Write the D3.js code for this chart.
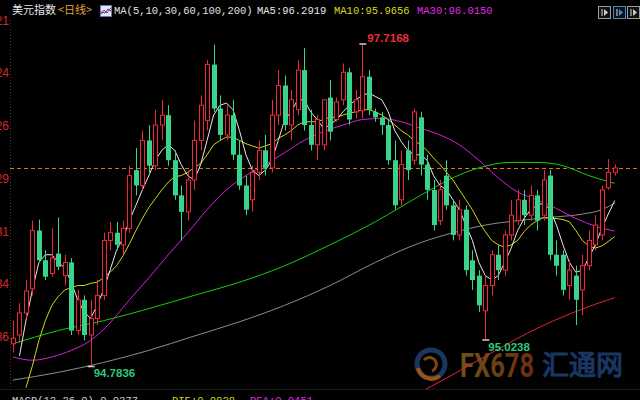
<!DOCTYPE html>
<html><head><meta charset="utf-8">
<script src="https://cdn.jsdelivr.net/npm/d3@7"></script>
<style>html,body{margin:0;padding:0;background:#000;overflow:hidden}</style>
</head><body><svg id="c" width="640" height="400"></svg>
<script>
// ---- data ----
const opens  = [94.99,95.07,95.27,95.49,96.02,95.75,95.63,95.81,95.61,95.73,95.11,95.39,95.07,95.22,95.43,95.93,96.00,95.89,96.04,96.57,
                96.43,96.84,96.61,96.98,97.07,96.66,96.34,96.19,96.48,96.84,97.02,97.53,97.13,96.89,97.07,96.71,96.43,96.30,96.55,96.75,
                96.59,97.07,97.34,96.98,97.12,97.48,96.98,96.80,96.80,97.23,97.03,97.21,97.46,97.10,97.11,97.42,97.10,97.05,96.98,96.66,
                96.30,96.75,96.66,97.05,96.62,96.39,96.11,96.52,96.25,95.98,96.21,95.75,95.61,95.29,95.52,95.80,95.66,95.98,96.11,96.30,
                96.16,96.34,96.16,96.52,95.80,95.80,95.52,95.61,95.48,95.70,95.89,95.98,96.41,96.55];
const highs  = [95.20,95.36,95.57,96.11,96.12,95.84,96.04,96.14,95.80,95.77,95.48,95.43,95.39,95.57,96.00,96.10,96.10,96.11,96.61,96.77,
                96.93,96.98,97.12,97.21,97.16,96.75,96.43,96.57,97.02,97.25,97.57,97.71,97.25,97.16,97.21,96.84,96.52,96.61,96.84,96.89,
                97.21,97.48,97.43,97.30,97.57,97.68,97.12,97.07,97.03,97.39,97.23,97.54,97.50,97.30,97.7168,97.48,97.13,97.10,97.03,96.84,
                96.75,96.84,97.13,97.10,96.71,96.48,96.48,96.66,96.30,96.30,96.25,95.84,95.66,95.61,95.84,95.89,96.02,96.30,96.39,96.39,
                96.43,96.39,96.57,96.57,95.93,95.84,95.75,95.70,95.80,96.02,96.16,96.43,96.67,96.62];
const lows   = [94.91,95.00,95.22,95.43,95.73,95.57,95.60,95.66,95.52,95.07,95.07,95.02,94.7836,95.16,95.39,95.84,95.84,95.80,96.00,96.34,
                96.39,96.52,96.57,96.84,96.61,96.30,95.93,96.11,96.39,96.75,96.93,97.10,96.84,96.84,96.66,96.39,96.16,96.19,96.48,96.52,
                96.55,96.98,96.93,96.84,97.07,96.93,96.75,96.66,96.75,96.84,97.01,97.16,96.98,97.04,97.04,97.07,97.01,96.89,96.62,96.21,
                96.25,96.48,96.62,96.52,96.30,96.02,96.07,96.21,95.93,95.93,95.61,95.48,95.28,95.0238,95.43,95.57,95.61,95.93,96.07,96.07,
                96.11,96.02,96.11,95.75,95.61,95.43,95.39,95.16,95.25,95.66,95.84,95.93,96.39,96.52];
const closes = [95.04,95.27,95.47,96.02,95.75,95.60,95.77,95.69,95.73,95.11,95.39,95.07,95.22,95.43,95.93,96.00,95.89,96.04,96.52,96.43,
                96.84,96.61,96.98,97.07,96.66,96.34,96.19,96.48,96.84,97.16,97.53,97.13,96.89,97.07,96.71,96.43,96.21,96.55,96.75,96.59,
                97.07,97.34,96.98,97.21,97.48,96.98,96.80,97.03,97.21,96.92,97.19,97.46,97.03,97.21,97.42,97.12,97.05,96.98,96.66,96.25,
                96.62,96.57,97.10,96.62,96.39,96.07,96.39,96.25,95.98,96.21,95.66,95.57,95.34,95.52,95.80,95.66,95.98,96.16,96.30,96.16,
                96.34,96.11,96.48,95.80,95.70,95.48,95.66,95.39,95.70,95.93,96.07,96.39,96.55,96.59];

const ma5Start = 1;
const ma5 = [94.88,95.20,95.48,95.73,95.80,95.80,95.73,95.68,95.55,95.39,95.28,95.22,95.34,95.48,95.66,95.84,95.95,96.11,96.25,96.39,
             96.52,96.66,96.75,96.80,96.75,96.62,96.52,96.48,96.62,96.84,97.07,97.16,97.18,97.12,96.93,96.71,96.57,96.52,96.57,96.66,
             96.84,97.03,97.10,97.21,97.21,97.10,97.03,96.95,96.98,97.03,97.10,97.16,97.21,97.25,97.27,97.24,97.21,97.10,96.93,96.83,
             96.75,96.71,96.71,96.66,96.52,96.43,96.39,96.30,96.21,96.07,95.93,95.73,95.61,95.57,95.61,95.73,95.86,96.02,96.13,96.21,
             96.25,96.27,96.21,96.07,95.89,95.73,95.64,95.66,95.77,95.89,96.04,96.17,96.2919];
const ma10Start = 2;
const ma10 = [94.59,94.79,95.02,95.20,95.34,95.42,95.48,95.50,95.52,95.52,95.54,95.55,95.59,95.64,95.70,95.79,95.90,96.02,96.13,96.23,
              96.31,96.39,96.46,96.51,96.52,96.55,96.59,96.63,96.71,96.80,96.84,96.87,96.87,96.84,96.81,96.79,96.77,96.79,96.81,96.86,
              96.89,96.93,96.98,97.01,97.01,97.01,97.03,97.05,97.05,97.07,97.09,97.10,97.12,97.12,97.10,97.07,97.03,96.98,96.93,96.89,
              96.84,96.80,96.75,96.68,96.62,96.55,96.48,96.39,96.30,96.21,96.10,96.01,95.93,95.89,95.87,95.89,95.93,96.01,96.07,96.11,
              96.14,96.13,96.13,96.12,96.10,96.02,95.93,95.88,95.86,95.88,95.92,95.9656];
const ma30 = [[0,94.87],[3,94.84],[6,94.87],[9,94.93],[12,95.02],[15,95.18],[18,95.39],[21,95.59],[24,95.80],[27,96.00],[30,96.21],
              [33,96.39],[36,96.52],[39,96.62],[42,96.73],[45,96.84],[48,96.92],[51,96.98],[54,97.03],[57,97.04],[60,97.01],[63,96.95],
              [66,96.89],[69,96.80],[72,96.66],[75,96.50],[78,96.37],[81,96.30],[84,96.22],[87,96.13],[90,96.06],[93,96.015]];
const ma60 = [[0,94.99],[7,95.11],[14,95.20],[21,95.31],[28,95.43],[35,95.55],[42,95.70],[49,95.89],[56,96.10],[63,96.34],
              [68,96.50],[72,96.59],[77,96.64],[81,96.64],[85,96.61],[89,96.52],[93,96.45]];
const ma100 = [[0,94.66],[7,94.73],[14,94.82],[21,94.93],[28,95.06],[35,95.19],[42,95.34],[49,95.52],[56,95.73],[63,95.91],
               [68,96.00],[73,96.07],[78,96.11],[83,96.14],[88,96.17],[91,96.21],[93,96.27]];
const ma200 = [[63,94.55],[68,94.71],[73,94.875],[78,95.04],[81,95.13],[86,95.26],[90,95.35],[93,95.41]];

const tickLabels = ["97.9321","97.4524","96.9726","96.4929","96.0131","95.5334","95.0536"];
const highMark = {idx:54, value:"97.7168"};
const lowMarks = [{idx:12, value:"94.7836"},{idx:73, value:"95.0238"}];
const legendItems = [
  {text:"MA5:96.2919", color:"#e6e6e6"},
  {text:"MA10:95.9656", color:"#d8d81c"},
  {text:"MA30:96.0150", color:"#e02ce0"}
];

// ---- drawing ----
const W=640,H=400;
const svg=d3.select("#c");
svg.append("rect").attr("width",W).attr("height",H).attr("fill","#000");

const plotTop=20, plotBottom=389.5, axisX=10;
const y=d3.scaleLinear().domain([94.5739,97.9321]).range([plotBottom,20.4]);
const x=d3.scaleLinear().domain([0,93]).range([13,614.7]);
const UP="#f0283c", DOWN="#38d48c";

const defs=svg.append("defs");
defs.append("clipPath").attr("id","plot")
  .append("rect").attr("x",axisX).attr("y",plotTop).attr("width",W-axisX).attr("height",plotBottom-plotTop);

// left axis line (dotted) and labels
svg.append("line").attr("x1",axisX+0.5).attr("x2",axisX+0.5).attr("y1",plotTop).attr("y2",plotBottom)
  .attr("stroke","#3a3a3a").attr("stroke-dasharray","1,2");
svg.append("g").selectAll("text").data(tickLabels).join("text")
  .attr("x",9).attr("y",d=>y(+d)).attr("dy","0.35em").attr("text-anchor","end")
  .attr("fill","#d42a2a").attr("font-family","Liberation Sans, Arial, sans-serif").attr("font-size",12)
  .text(d=>d);

// watermark (behind marks)
const wm=svg.append("g");
wm.append("circle").attr("cx",431).attr("cy",364).attr("r",14).attr("fill","none").attr("stroke","#1a3560").attr("stroke-width",5);
wm.append("path").attr("d","M418,368 A14,14 0 0,0 440,376").attr("fill","none").attr("stroke","#9a541a").attr("stroke-width",4);
wm.append("path").attr("d","M424,360 A7,7 0 1,1 432,371").attr("fill","none").attr("stroke","#7a4616").attr("stroke-width",3);
const grad=defs.append("linearGradient").attr("id","fxg").attr("x1","0").attr("x2","1");
grad.append("stop").attr("offset","0").attr("stop-color","#6e5219");
grad.append("stop").attr("offset","1").attr("stop-color","#6c2c0e");
wm.append("text").attr("x",460).attr("y",377).attr("font-family","Roboto, Liberation Sans, sans-serif")
  .attr("font-weight","bold").attr("font-size",33).attr("textLength",74).attr("lengthAdjust","spacingAndGlyphs")
  .attr("fill","url(#fxg)").text("FX678");
// Chinese part of the watermark drawn as HTML-free SVG text, normal weight + stroke for thickness
wm.append("text").attr("x",542).attr("y",375)
  .style("font-family","'Noto Sans CJK SC'").style("font-size","27px").style("font-weight","400")
  .style("fill","rgb(26,54,98)").style("stroke","rgb(26,54,98)").style("stroke-width","1.2px")
  .text("汇通网");

const g=svg.append("g").attr("clip-path","url(#plot)");

// last price dashed line
const ly0=Math.round(y(closes[closes.length-1]))+0.5;
g.append("line").attr("x1",axisX).attr("x2",W).attr("y1",ly0).attr("y2",ly0)
  .attr("stroke","#d8781c").attr("stroke-dasharray","4,3").attr("stroke-width",1);

// MA lines
const lineD=d3.line().x(d=>x(d[0])).y(d=>y(d[1]));
const lineC=d3.line().x(d=>x(d[0])).y(d=>y(d[1])).curve(d3.curveMonotoneX);
function drawMA(pts,color,curve){
  g.append("path").datum(pts).attr("d",curve?lineC:lineD).attr("fill","none")
   .attr("stroke",color).attr("stroke-width",1);
}
drawMA(ma200,"#e0242c",true);
drawMA(ma100,"#8c8c8c",true);
drawMA(ma60,"#10d010",true);
drawMA(ma30,"#dc1cdc",true);
drawMA(ma10.map((v,k)=>[ma10Start+k,v]),"#d4d418",false);
drawMA(ma5.map((v,k)=>[ma5Start+k,v]),"#e8e8e8",false);

// candles
const bw=5;
const candles=opens.map((o,i)=>({i,o,h:highs[i],l:lows[i],c:closes[i]}));
const cg=g.append("g");
candles.forEach(d=>{
  const cx=Math.round(x(d.i))+0.5;
  const up=d.c>=d.o;
  const top=y(Math.max(d.o,d.c)), bot=y(Math.min(d.o,d.c));
  const col=up?UP:DOWN;
  if(up){
    cg.append("line").attr("x1",cx).attr("x2",cx).attr("y1",y(d.h)).attr("y2",top).attr("stroke",col);
    cg.append("line").attr("x1",cx).attr("x2",cx).attr("y1",bot).attr("y2",y(d.l)).attr("stroke",col);
    cg.append("rect").attr("x",cx-2).attr("y",top).attr("width",4).attr("height",Math.max(1,bot-top))
      .attr("fill","#000").attr("stroke",col).attr("stroke-width",1);
  } else {
    cg.append("line").attr("x1",cx).attr("x2",cx).attr("y1",y(d.h)).attr("y2",y(d.l)).attr("stroke",col);
    cg.append("rect").attr("x",cx-2.5).attr("y",top).attr("width",bw).attr("height",Math.max(1,bot-top))
      .attr("fill",col);
  }
});

// high / low markers
const hx=x(highMark.idx), hy=y(+highMark.value);
g.append("line").attr("x1",hx-3).attr("x2",hx+4).attr("y1",hy).attr("y2",hy).attr("stroke","#cfcfcf").attr("stroke-width",1.5);
svg.append("text").attr("x",hx+5).attr("y",hy-2).attr("fill","#e8303c").attr("font-weight","bold")
  .attr("font-family","Liberation Sans, Arial, sans-serif").attr("font-size",11.5).text(highMark.value);
lowMarks.forEach(m=>{
  const lx=x(m.idx), lyy=y(+m.value);
  g.append("line").attr("x1",lx-3).attr("x2",lx+4).attr("y1",lyy).attr("y2",lyy).attr("stroke","#cfcfcf").attr("stroke-width",1.5);
  svg.append("text").attr("x",lx+3).attr("y",lyy+11).attr("fill","#2ec87e").attr("font-weight","bold")
    .attr("font-family","Liberation Sans, Arial, sans-serif").attr("font-size",11.5).text(m.value);
});

// header
const hdr=svg.append("g");
hdr.append("text").attr("x",12).attr("y",14).attr("fill","#e8e8e8").attr("font-family","Noto Sans CJK SC, sans-serif")
  .attr("font-size",11).text("美元指数");
hdr.append("text").attr("x",58).attr("y",14).attr("fill","#e0a040").attr("font-family","Noto Sans CJK SC, sans-serif")
  .attr("font-size",11).text("<日线>");
hdr.append("rect").attr("x",100.5).attr("y",5.5).attr("width",11).attr("height",11).attr("fill","#dfe6f4").attr("stroke","#6a7aa8");
hdr.append("polyline").attr("points","101,14 104,10 107,13 111,8").attr("fill","none").attr("stroke","#e02020");
hdr.append("polyline").attr("points","101,12 105,13 108,9 111,11").attr("fill","none").attr("stroke","#2040d0");
hdr.append("text").attr("x",114).attr("y",14).attr("fill","#e0e0e0").attr("font-family","Liberation Mono, DejaVu Sans Mono, monospace")
  .attr("font-size",10.5).text("MA(5,10,30,60,100,200)");
const legX=[257,334,417];
legendItems.forEach((d,k)=>{
  hdr.append("text").attr("x",legX[k]).attr("y",14).attr("fill",d.color)
    .attr("font-family","Liberation Mono, DejaVu Sans Mono, monospace").attr("font-size",10.5).text(d.text);
});
// top right buttons
[[598,"#9a9a9a"],[613,"#3a8ad8"],[627,"#9a9a9a"]].forEach(([bx,c])=>{
  hdr.append("rect").attr("x",bx+0.5).attr("y",6.5).attr("width",12).attr("height",12).attr("fill","#111").attr("stroke",c);
  hdr.append("line").attr("x1",bx+4).attr("x2",bx+4).attr("y1",9).attr("y2",16).attr("stroke","#ddd");
  hdr.append("path").attr("d",`M${bx+6},9 L${bx+10},12.5 L${bx+6},16 Z`).attr("fill",c==="#3a8ad8"?"#3a8ad8":"#ccc");
});

// bottom (cut) legend row
svg.append("line").attr("x1",0).attr("x2",W).attr("y1",389.5).attr("y2",389.5).attr("stroke","#1a1a1a");
const bot=[["MACD(12,26,9) 0.0377",12,"#d0d0d0"],["DIF:0.0828",172,"#d8d81c"],["DEA:0.0451",250,"#e02ce0"]];
bot.forEach(([t,bx,c])=>svg.append("text").attr("x",bx).attr("y",404).attr("fill",c)
  .attr("font-family","Liberation Mono, monospace").attr("font-size",10.5).text(t));
</script></body></html>
